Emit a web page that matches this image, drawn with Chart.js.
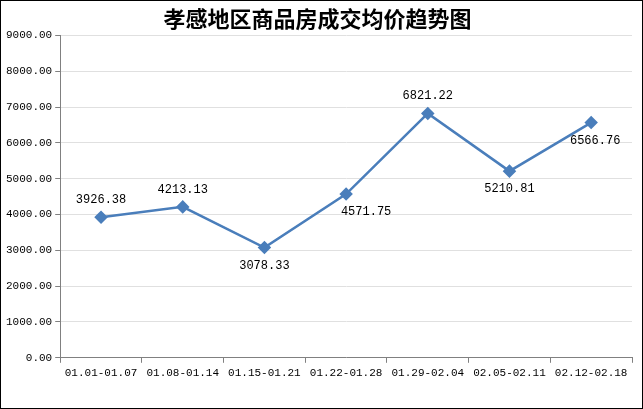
<!DOCTYPE html>
<html><head><meta charset="utf-8">
<script src="https://cdn.jsdelivr.net/npm/chart.js@4"></script>
<style>
html,body{margin:0;padding:0;background:#fff;}
#wrap{position:absolute;left:0;top:0;width:641px;height:407px;border:1px solid #000;}
</style></head>
<body><div id="wrap"><canvas id="c" width="641" height="407"></canvas></div>
<script>
// 数据
const categories = ['01.01-01.07','01.08-01.14','01.15-01.21','01.22-01.28','01.29-02.04','02.05-02.11','02.12-02.18'];
const prices = [3926.38, 4213.13, 3078.33, 4571.75, 6821.22, 5210.81, 6566.76];
// label placement: 'up' or 'down'
const labelPos = ['up','up','down','down','up','down','down'];

const labelPlugin = {
    id: 'labels',
    afterDatasetsDraw(chart) {
        const ctx = chart.ctx;
        const meta = chart.getDatasetMeta(0);
        ctx.save();
        ctx.font = "12px 'Liberation Mono', monospace";
        ctx.fillStyle = '#000';
        ctx.textAlign = 'center';
        meta.data.forEach((pt, i) => {
            const dy = labelPos[i] === 'up' ? -14 : 21;
            let dx = 0;
            if (i === 3) dx = 20;
            if (i === 6) dx = 4;
            ctx.fillText(prices[i].toFixed(2), pt.x + dx, pt.y + dy);
        });
        ctx.restore();
    }
};

new Chart(document.getElementById('c'), {
    type: 'line',
    data: {
        labels: categories,
        datasets: [{
            data: prices,
            borderColor: '#4a7ebb',
            backgroundColor: '#4a7ebb',
            borderWidth: 2.5,
            pointStyle: 'rectRot',
            pointRadius: 5,
            tension: 0
        }]
    },
    options: {
        responsive: false,
        animation: false,
        layout: { padding: { left: 2, right: 10, top: 2, bottom: 24 } },
        plugins: {
            legend: { display: false },
            tooltip: { enabled: false },
            title: {
                display: true,
                text: '孝感地区商品房成交均价趋势图',
                font: { size: 22, weight: 'bold', family: "'Noto Sans CJK SC', sans-serif" },
                color: '#000',
                padding: { top: 2, bottom: 4 }
            }
        },
        scales: {
            x: {
                offset: true,
                grid: { display: true, drawOnChartArea: false, offset: true, tickLength: 5, tickColor: '#808080' },
                border: { color: '#808080' },
                ticks: { color: '#000', font: { size: 11, family: "'Liberation Mono', monospace" }, maxRotation: 0, autoSkip: false, padding: 4 }
            },
            y: {
                min: 0, max: 9000,
                ticks: { stepSize: 1000, color: '#000', font: { size: 11, family: "'Liberation Mono', monospace" },
                    callback: v => v.toFixed(2) },
                grid: { color: '#e0e0e0', tickColor: '#808080', tickLength: 5 },
                border: { color: '#808080' }
            }
        }
    },
    plugins: [labelPlugin]
});
</script></body></html>
